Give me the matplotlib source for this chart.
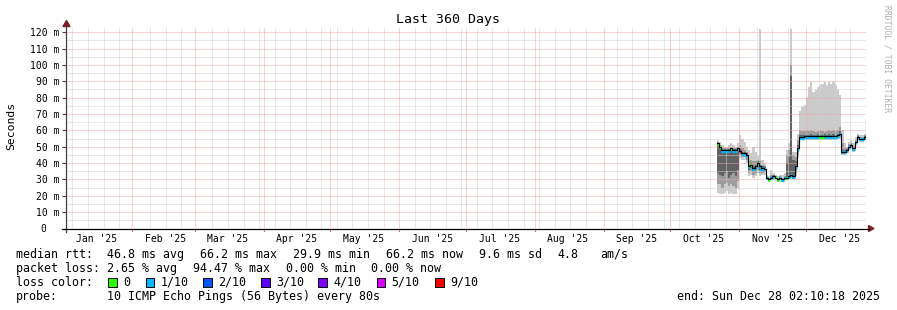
import numpy as np
import pandas as pd
import matplotlib
matplotlib.use('Agg')
import matplotlib.pyplot as plt
from matplotlib.lines import Line2D
from matplotlib.patches import Polygon, Rectangle
from datetime import datetime, timedelta

W, H = 897, 310
MONO = 'DejaVu Sans Mono'

# time range of the graph
end = datetime(2025, 12, 28, 2, 10, 18)
start = end - timedelta(days=360)

# daily samples, starting here
first_day = '2025-10-22'

# median rtt (ms)
median = [52, 50, 48, 48, 48, 48, 49, 48, 48, 49,
          47.5, 46, 46, 45, 38, 39, 37, 38, 40, 38, 37, 36.5,
          31, 30, 31, 32, 31, 30, 31, 30, 31, 31, 32, 33, 32,
          38, 49,
          56, 56, 56.5, 56.5, 56.5, 56.5, 56.5, 56.5, 56.5, 56.5,
          56.5, 56.5, 56.5, 56.5, 56.5, 56.5, 56.5, 57, 58,
          47, 47, 48, 50, 51, 49, 53, 56, 55, 55, 56, 67]

# lost pings out of 10
loss = [0, 0, 1, 1, 1, 1, 0, 1, 1, 1,
        9, 1, 1, 1, 1, 0, 1, 1, 1, 1, 1, 1,
        1, 0, 1, 1, 0, 0, 1, 1, 1, 0, 1, 1, 1,
        1, 1,
        1, 1, 1, 1, 1, 1, 1, 1, 1, 0, 0, 1, 1, 1, 1, 1, 1, 1, 1,
        1, 1, 1, 1, 1, 1, 1, 1, 1, 1, 1, 1]

# smoke (ms): max / 2nd / 3rd highest and lowest pings
smoke_max = [54, 53, 51, 50, 50, 51, 52, 51, 50, 52,
             57, 55, 53, 50, 48, 46, 50, 47, 45, 122, 42, 40,
             33, 32, 36, 34, 33, 32, 33, 33, 34, 48, 52, 122, 47,
             47, 58,
             72, 74, 75.5, 80.5, 86.5, 89.5, 83.5, 84.5, 86.5, 87.5,
             88.5, 89.5, 87.5, 89.5, 88.5, 89.5, 87.5, 85.5, 81.5,
             60, 52, 50, 53, 54, 52, 56, 58, 57, 57, 58, 68]
smoke_hi2 = [53, 51, 49, 49, 49, 49, 50, 49, 49, 50,
             51, 49, 48, 47, 41, 42, 41, 41, 42, 41, 39, 38,
             32, 31, 33, 33, 32, 31, 32, 31, 32, 45, 48, 100, 45,
             44, 54,
             60, 59.5, 59.5, 60, 59.5, 60, 59.5, 59, 59.5, 60,
             59.5, 59, 59.5, 60, 59.5, 60, 59.5, 60, 62,
             52, 49, 49, 51.5, 52.5, 50.5, 54.5, 57, 56, 56, 57, 67.5]
smoke_hi3 = [52, 50, 48.5, 48.5, 48.5, 48.5, 49.5, 48.5, 48.5, 49.5,
             48.5, 47, 47, 46, 39, 40, 38, 39, 41, 39, 38, 37.5,
             31.5, 30.5, 31.5, 32.5, 31.5, 30.5, 31.5, 30.5, 31.5, 40, 44, 93, 42,
             41, 51,
             57, 57, 57.3, 57.3, 57.3, 57.5, 57.3, 57.3, 57.5, 57.3,
             57.3, 57.5, 57.3, 57.5, 57.3, 57.5, 57.3, 58, 59.5,
             48, 48, 48.5, 50.5, 51.5, 49.5, 53.5, 56.5, 55.5, 55.5, 56.5, 67.2]
smoke_lo3 = [34, 33, 32, 34, 35, 31, 33, 34, 32, 36,
             46.5, 45, 45, 44, 36, 37, 35, 36, 38, 36, 35, 35.5,
             30.5, 29.5, 30.5, 31.5, 30.5, 29.5, 30.5, 29.5, 30.5, 30.5, 31, 32, 31,
             36, 47,
             55, 55, 55.5, 55.5, 55.5, 55.5, 55.5, 55.5, 55.5, 55.5,
             55.5, 55.5, 55.5, 55.5, 55.5, 55.5, 55.5, 56, 57,
             46.5, 46.5, 47.5, 49.5, 50.5, 48.5, 52.5, 55.5, 54.5, 54.5, 55.5, 66.5]
smoke_lo2 = [27, 27, 25, 27, 28, 26, 27, 26, 25, 29,
             45, 44, 44, 42, 34, 35, 33, 34, 36, 34, 34, 34.5,
             30, 29, 30, 31, 30, 29, 30, 29, 30, 30, 30.5, 31, 30.5,
             34, 45,
             54.5, 54.5, 55, 55, 55, 55, 55, 55, 55, 55,
             55, 55, 55, 55, 55, 55, 55, 55.5, 56,
             46, 46, 47, 49, 50, 48, 52, 55, 54, 54, 55, 66]
smoke_min = [22, 21, 21, 22, 23, 21, 22, 21, 21, 24,
             43, 42, 42, 40, 32, 33, 31, 32, 34, 32, 33, 33,
             29.5, 28.5, 29.5, 30, 29.5, 28.5, 29.5, 28.5, 29.5, 29.5, 30, 30.5, 30,
             32, 43,
             54, 54, 54, 54, 54, 54, 54, 54, 54, 54,
             54, 54, 54, 54, 54, 54, 54, 54.5, 55,
             45, 45, 46, 48, 49, 47, 51, 54, 53, 53, 54, 65]

loss_levels = [0, 1, 2, 3, 4, 5, 9]
loss_labels = ['0', '1/10', '2/10', '3/10', '4/10', '5/10', '9/10']
loss_colors = ['#26ff00', '#00b8ff', '#0059ff', '#5e00ff', '#7e00ff', '#dd00ff', '#ff0000']

y_ticks = list(range(0, 121, 10))
y_ticklabels = ['0  '] + ['%d m' % v for v in y_ticks[1:]]


def fx(x):
    return x / W


def fy(y):
    return 1 - y / H


fig = plt.figure(figsize=(W / 100, H / 100), dpi=100)
fig.patch.set_facecolor('white')
ax = fig.add_axes([fx(66), fy(228.5), 800 / W, (228.5 - 27.3) / H])
ax.set_facecolor('white')
for s in ax.spines.values():
    s.set_visible(False)

t = pd.date_range(first_day, periods=len(median), freq='D')
te = t.append(pd.DatetimeIndex([pd.Timestamp(end)]))


def ext(v):
    return np.append(v, v[-1])


# smoke
ax.fill_between(te, ext(smoke_min), ext(smoke_max), step='post', color='#cbcbcb', lw=0, zorder=1)
ax.fill_between(te, ext(smoke_lo2), ext(smoke_hi2), step='post', color='#9c9c9c', lw=0, zorder=1)
ax.fill_between(te, ext(smoke_lo3), ext(smoke_hi3), step='post', color='#626262', lw=0, zorder=1)

# grid
GRAY = '#d2d2d2'
RED = '#f2a6a6'
dots = (0, (1, 1))
months = pd.date_range('2025-02-01', end, freq='MS')
for v in range(5, 121, 5):
    if v % 10:
        ax.axhline(v, color=GRAY, lw=0.72, ls=dots, zorder=2)
for d in pd.date_range(start.date(), end, freq='W-SUN'):
    if np.min(np.abs((months - d).days)) < 2:
        continue
    ax.axvline(d, color=GRAY, lw=0.72, ls=dots, zorder=2)
for v in range(10, 121, 10):
    ax.axhline(v, color=RED, lw=0.72, ls=dots, zorder=2)
for d in months:
    ax.axvline(d, color=RED, lw=0.72, ls=dots, zorder=2)
    ax.plot([d, d], [-0.014, 0], transform=ax.get_xaxis_transform(), color='#e06060',
            lw=0.8, clip_on=False, zorder=3)

# median coloured by loss
cmap = dict(zip(loss_levels, loss_colors))
ax.hlines(np.array(median) - 0.4, te[:-1], te[1:], colors=[cmap[l] for l in loss], lw=2.4, zorder=4)
ax.step(te, ext(median), where='post', color='black', lw=0.8, zorder=5)

ax.set_xlim(start, end)
ax.set_ylim(0, 123)

ax.set_yticks(y_ticks)
ax.set_yticklabels(y_ticklabels, family=MONO, fontsize=7)
ax.tick_params(axis='y', length=3, width=0.8, color='#404040', pad=2)

month_labels = pd.date_range('2025-01-01', periods=12, freq='MS') + pd.Timedelta(days=15)
ax.set_xticks(month_labels)
ax.set_xticklabels([d.strftime("%b '25") for d in month_labels], family=MONO, fontsize=7)
ax.tick_params(axis='x', length=0, pad=4)

# axes + arrows
fig.add_artist(Line2D([fx(66), fx(66)], [fy(232), fy(25)], color='#404040', lw=0.9))
fig.add_artist(Line2D([fx(62), fx(869)], [fy(228.5), fy(228.5)], color='black', lw=0.9))
fig.add_artist(Polygon([(fx(66.5), fy(20.5)), (fx(63), fy(26.5)), (fx(70), fy(26.5))],
                       closed=True, transform=fig.transFigure, color='#7f1f1f'))
fig.add_artist(Polygon([(fx(874), fy(228.5)), (fx(868.5), fy(225.5)), (fx(868.5), fy(231.5))],
                       closed=True, transform=fig.transFigure, color='#7f1f1f'))

# titles
fig.text(fx(448), fy(19), 'Last 360 Days', ha='center', va='center', family=MONO, fontsize=9.5)
fig.text(fx(11), fy(126), 'Seconds', ha='center', va='center', rotation=90, family=MONO, fontsize=8.2)
fig.text(fx(887), fy(59), 'RRDTOOL / TOBI OETIKER', ha='center', va='center', rotation=270,
         family=MONO, fontsize=5.8, color='#b0b0b0')

# legend
fs = 8.4
rows = [
    (254.3, [(16, 'median rtt:'), (107, '46.8 ms avg'), (200, '66.2 ms max'), (293, '29.9 ms min'),
             (386, '66.2 ms now'), (479, '9.6 ms sd'), (557.7, '4.8'), (600, 'am/s')]),
    (268.3, [(16, 'packet loss:'), (107, '2.65 % avg'), (193.3, '94.47 % max'), (286, '0.00 % min'),
             (371, '0.00 % now')]),
    (282.3, [(16, 'loss color:')]),
    (296.3, [(16, 'probe:'), (107, '10 ICMP Echo Pings (56 Bytes) every 80s')]),
]
for y, items in rows:
    for x, s in items:
        fig.text(fx(x), fy(y), s, ha='left', va='center', family=MONO, fontsize=fs)

box_x = [108.3, 145.7, 203.3, 261, 318.3, 376.7, 435]
for bx, c, lab in zip(box_x, loss_colors, loss_labels):
    fig.add_artist(Rectangle((fx(bx), fy(286.7)), 8.6 / W, 8.6 / H, transform=fig.transFigure,
                             facecolor=c, edgecolor='black', lw=0.7))
    fig.text(fx(bx + 15), fy(282.3), lab, ha='left', va='center', family=MONO, fontsize=fs)

fig.text(fx(880), fy(296.3), 'end: Sun Dec 28 02:10:18 2025', ha='right', va='center',
         family=MONO, fontsize=fs)

fig.savefig('out.png', dpi=100, facecolor='white')
